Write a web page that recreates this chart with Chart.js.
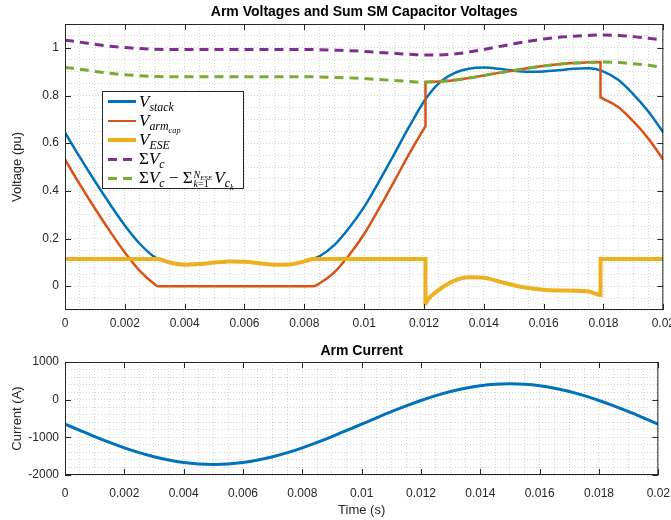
<!DOCTYPE html>
<html>
<head>
<meta charset="utf-8">
<script src="https://cdn.jsdelivr.net/npm/chart.js@4.4.1/dist/chart.umd.min.js"></script>
<style>
  body { margin: 0; background: #fff; overflow: hidden; }
  #wrap { position: relative; width: 671px; height: 520px; overflow: hidden; }
  #wrap canvas { position: absolute; left: 0; }
  #cvVolt { top: 0; }
  #cvCurr { top: 335px; }
  #legend {
    position: absolute; left: 102px; top: 91px; width: 142px; height: 98px;
    box-sizing: border-box; border: 1px solid #262626; background: #fff;
    font-family: "Liberation Serif", "DejaVu Serif", serif; font-size: 17px; color: #000;
  }
  #legend .row { display: flex; align-items: center; height: 19.2px; white-space: nowrap; }
  #legend .swatch { width: 28px; margin-left: 5px; margin-right: 3px; flex: none; }
  #legend sub { font-size: 0.7em; vertical-align: -0.32em; line-height: 0; }
  #legend .lim { display: inline-flex; flex-direction: column; font-size: 10px; line-height: 9px; vertical-align: middle; margin: 0 2px 0 1px; }
  #legend .up { font-style: normal; }
</style>
</head>
<body>
<div id="wrap">
  <canvas id="cvVolt" width="681" height="335"></canvas>
  <canvas id="cvCurr" width="681" height="185"></canvas>
  <div id="legend"></div>
</div>
<script>
// time base shared by the smooth traces (s)
const timeGrid = [0, 0.0005, 0.001, 0.0015, 0.002, 0.0025, 0.003, 0.0035, 0.004, 0.0045,
  0.005, 0.0055, 0.006, 0.0065, 0.007, 0.0075, 0.008, 0.0085, 0.009, 0.0095,
  0.01, 0.0105, 0.011, 0.0115, 0.012, 0.0125, 0.013, 0.0135, 0.014, 0.0145,
  0.015, 0.0155, 0.016, 0.0165, 0.017, 0.0175, 0.018, 0.0185, 0.019, 0.0195, 0.02];

// stack voltage (pu)
const vStack = [0.645, 0.540, 0.440, 0.345, 0.255, 0.178, 0.122, 0.100, 0.090, 0.093,
  0.099, 0.104, 0.102, 0.096, 0.090, 0.091, 0.104, 0.125, 0.172, 0.245,
  0.333, 0.440, 0.553, 0.668, 0.775, 0.852, 0.893, 0.912, 0.917, 0.912,
  0.904, 0.900, 0.901, 0.906, 0.912, 0.914, 0.900, 0.865, 0.805, 0.733, 0.645];

// arm capacitor voltage, with the two switching jumps
const armT = [0, 0.0005, 0.001, 0.0015, 0.002, 0.0025, 0.003, 0.0031, 0.0083, 0.0085,
  0.009, 0.0095, 0.01, 0.0105, 0.011, 0.0115, 0.012, 0.01205, 0.01205, 0.0125,
  0.013, 0.0135, 0.014, 0.0145, 0.015, 0.0155, 0.016, 0.0165, 0.017, 0.0175,
  0.0179, 0.0179, 0.01795, 0.0185, 0.019, 0.0195, 0.02];
const armV = [0.531, 0.426, 0.326, 0.231, 0.141, 0.064, 0.008, 0, 0, 0.011,
  0.058, 0.131, 0.219, 0.326, 0.439, 0.554, 0.661, 0.671, 0.857, 0.859,
  0.864, 0.873, 0.884, 0.895, 0.905, 0.915, 0.924, 0.931, 0.936, 0.939,
  0.941, 0.793, 0.789, 0.751, 0.691, 0.619, 0.531];

// energy storage element voltage
const eseT = [0, 0.003, 0.0031, 0.0035, 0.004, 0.0045, 0.005, 0.0055, 0.006, 0.0065,
  0.007, 0.0075, 0.008, 0.0083, 0.01205, 0.01205, 0.01208, 0.0122, 0.0125, 0.013, 0.0135,
  0.014, 0.0145, 0.015, 0.0155, 0.016, 0.0165, 0.017, 0.0175, 0.0179, 0.0179, 0.02];
const eseV = [0.114, 0.114, 0.114, 0.099, 0.090, 0.093, 0.099, 0.104, 0.102, 0.096,
  0.090, 0.091, 0.104, 0.114, 0.114, -0.073, -0.066, -0.046, -0.015, 0.022, 0.037,
  0.035, 0.020, 0.004, -0.008, -0.015, -0.018, -0.019, -0.022, -0.037, 0.114, 0.114];

// sum of SM capacitor voltages, and the same without the ESE modules
const sumVc = [1.032, 1.024, 1.015, 1.007, 1.001, 0.997, 0.994, 0.993, 0.993, 0.993,
  0.993, 0.993, 0.993, 0.993, 0.993, 0.993, 0.993, 0.992, 0.990, 0.988,
  0.985, 0.981, 0.977, 0.973, 0.970, 0.970, 0.974, 0.982, 0.993, 1.005,
  1.017, 1.028, 1.037, 1.044, 1.049, 1.052, 1.054, 1.052, 1.047, 1.040, 1.032];
const sumVcEse = [0.918, 0.910, 0.901, 0.893, 0.887, 0.883, 0.880, 0.879, 0.879, 0.879,
  0.879, 0.879, 0.879, 0.879, 0.879, 0.879, 0.879, 0.878, 0.876, 0.874,
  0.871, 0.867, 0.863, 0.859, 0.856, 0.859, 0.864, 0.873, 0.884, 0.895,
  0.905, 0.915, 0.924, 0.931, 0.936, 0.939, 0.941, 0.938, 0.933, 0.927, 0.918];

// arm current (A)
const iArm = [-650, -817, -981, -1136, -1279, -1407, -1516, -1603, -1668, -1707,
  -1720, -1707, -1668, -1603, -1516, -1407, -1279, -1136, -981, -817,
  -650, -483, -319, -164, -21, 107, 216, 303, 368, 407,
  420, 407, 368, 303, 216, 107, -21, -164, -319, -483, -650];

const legendLabels = [
  '<i>V</i><sub><i>stack</i></sub>',
  '<i>V</i><sub><i>arm</i><sub><i>cap</i></sub></sub>',
  '<i>V</i><sub><i>ESE</i></sub>',
  '<span class="up">&Sigma;</span><i>V</i><sub><i>c</i></sub>',
  '<span class="up">&Sigma;</span><i>V</i><sub><i>c</i></sub> <span class="up">&minus;</span> <span class="up">&Sigma;</span>' +
    '<span class="lim"><span><i>N</i><sub><i>ESE</i></sub></span><span><i>k</i>=1</span></span>' +
    '<i>V</i><sub><i>c</i><sub><i>k</i></sub></sub>'
];

const FONT = '"Liberation Sans", Arial, sans-serif';
const INK = '#262626';
const pts = (xs, ys) => xs.map((x, i) => ({ x, y: ys[i] }));
const isMajor = (v, step) => Math.abs(v / step - Math.round(v / step)) < 1e-6;

// axes box with inward ticks on all four sides
const boxPlugin = {
  id: 'axesBox',
  afterDraw(chart) {
    const { ctx, chartArea: a, scales } = chart;
    const len = 6;
    ctx.save();
    ctx.strokeStyle = INK;
    ctx.lineWidth = 1;
    ctx.strokeRect(a.left + 0.5, a.top + 0.5, a.right - a.left - 1, a.bottom - a.top - 1);
    ctx.beginPath();
    scales.x.ticks.forEach(t => {
      if (t.label === '') return;
      const px = Math.round(scales.x.getPixelForValue(t.value)) + 0.5;
      ctx.moveTo(px, a.bottom); ctx.lineTo(px, a.bottom - len);
      ctx.moveTo(px, a.top); ctx.lineTo(px, a.top + len);
    });
    scales.y.ticks.forEach(t => {
      if (t.label === '') return;
      const py = Math.round(scales.y.getPixelForValue(t.value)) + 0.5;
      ctx.moveTo(a.left, py); ctx.lineTo(a.left + len, py);
      ctx.moveTo(a.right, py); ctx.lineTo(a.right - len, py);
    });
    ctx.stroke();
    ctx.restore();
  }
};

// bold title centred over the plot area rather than the canvas
const axesTitle = {
  id: 'axesTitle',
  afterDraw(chart, args, opts) {
    const { ctx, chartArea: a } = chart;
    ctx.save();
    ctx.font = `bold 14px ${FONT}`;
    ctx.fillStyle = '#000';
    ctx.textAlign = 'center';
    ctx.textBaseline = 'middle';
    ctx.fillText(opts.text, (a.left + a.right) / 2, opts.y);
    ctx.restore();
  }
};

function timeAxis(pad, title) {
  return {
    type: 'linear', min: 0, max: 0.02,
    afterFit: s => { s.height = title ? 45 : 25; },
    grid: { color: 'rgba(38,38,38,0.2)', drawTicks: false },
    border: { display: false, dash: [1, 2] },
    ticks: {
      stepSize: 0.0005, autoSkip: false, maxRotation: 0, padding: pad,
      color: INK, font: { family: FONT, size: 12 },
      callback: v => isMajor(v, 0.002) ? String(+v.toFixed(3)) : ''
    },
    title: { display: !!title, text: title, color: INK, font: { family: FONT, size: 13 }, padding: { top: 0, bottom: 2 } }
  };
}

function valueAxis(min, max, step, major, title, fmt) {
  return {
    min, max,
    afterFit: s => { s.width = 65; },
    grid: { color: 'rgba(38,38,38,0.2)', drawTicks: false },
    border: { display: false, dash: [1, 2] },
    ticks: {
      stepSize: step, autoSkip: false, padding: 6,
      color: INK, font: { family: FONT, size: 12 },
      callback: v => isMajor(v, major) ? fmt(v) : ''
    },
    title: { display: true, text: title, color: INK, font: { family: FONT, size: 13 }, padding: { top: 10, bottom: 0 } }
  };
}

function baseOptions(titleText, titleY, top, xAxis, yAxis) {
  return {
    responsive: false, devicePixelRatio: 1, animation: false,
    layout: { autoPadding: false, padding: { left: 0, right: 9, top: top, bottom: 0 } },
    plugins: {
      legend: { display: false }, tooltip: { enabled: false }, title: { display: false },
      axesTitle: { text: titleText, y: titleY }
    },
    elements: { point: { radius: 0 }, line: { cubicInterpolationMode: 'monotone', borderCapStyle: 'butt' } },
    scales: { x: xAxis, y: yAxis }
  };
}

const voltSets = [
  { label: 'V_stack', data: pts(timeGrid, vStack), borderColor: '#0072BD', borderWidth: 2.5, order: 5 },
  { label: 'V_armcap', data: pts(armT, armV), borderColor: '#D95319', borderWidth: 2.5, order: 4 },
  { label: 'V_ESE', data: pts(eseT, eseV), borderColor: '#EDB120', borderWidth: 4, order: 3 },
  { label: 'Sum Vc', data: pts(timeGrid, sumVc), borderColor: '#7E2F8E', borderWidth: 3, borderDash: [9, 6], order: 2 },
  { label: 'Sum Vc - ESE', data: pts(timeGrid, sumVcEse), borderColor: '#77AC30', borderWidth: 3, borderDash: [9, 6], order: 1 }
];

new Chart(document.getElementById('cvVolt'), {
  type: 'line',
  data: { datasets: voltSets },
  options: baseOptions('Arm Voltages and Sum SM Capacitor Voltages', 12, 24,
    timeAxis(6, ''),
    valueAxis(-0.1, 1.1, 0.05, 0.2, 'Voltage (pu)', v => String(+v.toFixed(1)))),
  plugins: [boxPlugin, axesTitle]
});

new Chart(document.getElementById('cvCurr'), {
  type: 'line',
  data: { datasets: [{ label: 'Arm current', data: pts(timeGrid, iArm), borderColor: '#0072BD', borderWidth: 3 }] },
  options: baseOptions('Arm Current', 16, 27,
    timeAxis(11, 'Time (s)'),
    valueAxis(-2000, 1000, 200, 1000, 'Current (A)', v => String(Math.round(v)))),
  plugins: [boxPlugin, axesTitle]
});

// legend rows, styled from the datasets
const legend = document.getElementById('legend');
legend.innerHTML = voltSets.map((d, i) => {
  const w = d.borderWidth;
  const bg = d.borderDash
    ? `repeating-linear-gradient(90deg, ${d.borderColor} 0 ${d.borderDash[0]}px, transparent ${d.borderDash[0]}px ${d.borderDash[0] + d.borderDash[1]}px)`
    : d.borderColor;
  return `<div class="row"><span class="swatch" style="height:${w}px;background:${bg}"></span><span>${legendLabels[i]}</span></div>`;
}).join('');
</script>
</body>
</html>
